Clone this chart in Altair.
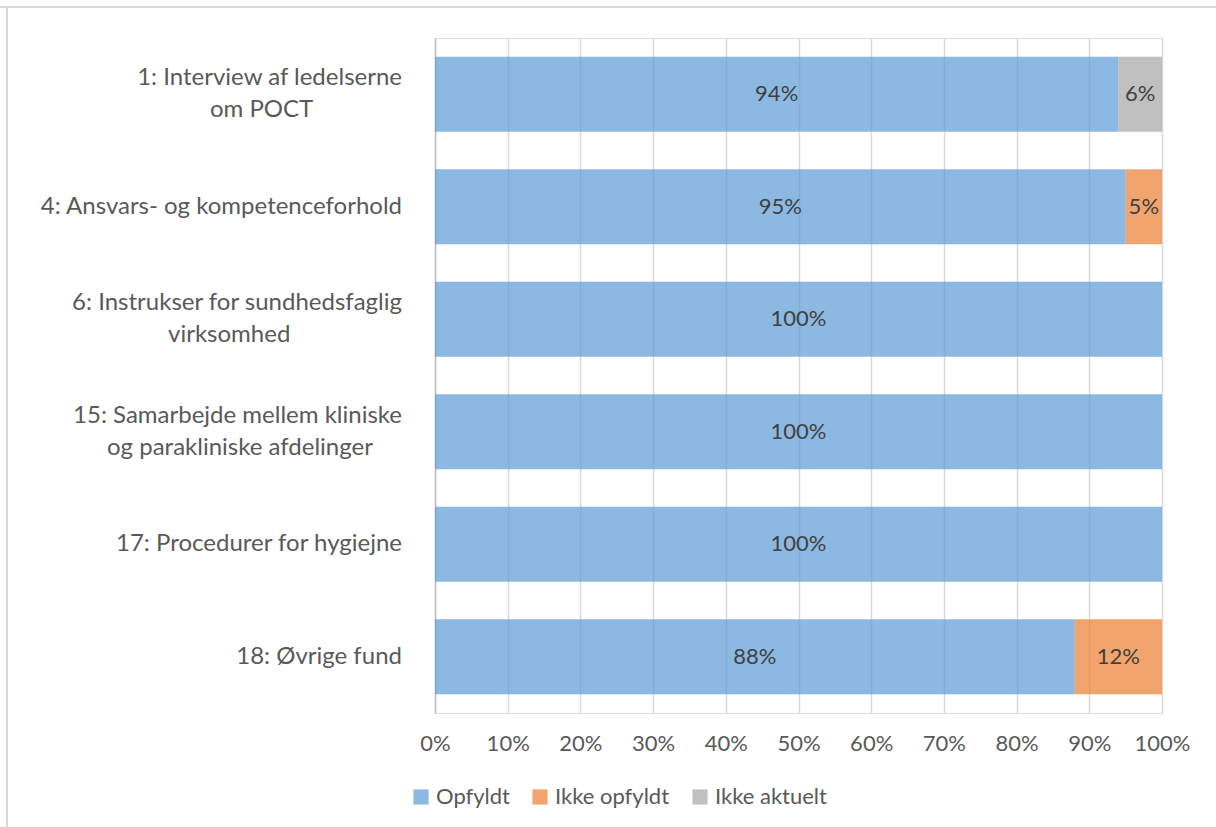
import altair as alt
import pandas as pd

categories = [
    "1: Interview af ledelserne\nom POCT",
    "4: Ansvars- og kompetenceforhold",
    "6: Instrukser for sundhedsfaglig\nvirksomhed",
    "15: Samarbejde mellem kliniske\nog parakliniske afdelinger",
    "17: Procedurer for hygiejne",
    "18: Øvrige fund",
]
series = ["Opfyldt", "Ikke opfyldt", "Ikke aktuelt"]
opfyldt = [94, 95, 100, 100, 100, 88]
ikke_opfyldt = [0, 5, 0, 0, 0, 12]
ikke_aktuelt = [6, 0, 0, 0, 0, 0]
colors = ["#5B9BD5", "#ED7D31", "#A5A5A5"]
x_ticks = [i / 10 for i in range(11)]

rows = []
for i, c in enumerate(categories):
    for s_i, (s, vals) in enumerate(zip(series, [opfyldt, ikke_opfyldt, ikke_aktuelt])):
        if vals[i] > 0:
            rows.append({"cat": c, "series": s, "order": s_i, "value": vals[i] / 100})
df = pd.DataFrame(rows)

lines = []
for c in categories:
    parts = c.split("\n")
    for li, p in enumerate(parts):
        lines.append({"cat": c, "line": p, "idx": li, "n": len(parts), "first": parts[0]})
ldf = pd.DataFrame(lines)

FONT = "Lato"
FS = 22
CFS = 24
yscale = alt.Scale(domain=categories, paddingInner=0.333, paddingOuter=0.1667)

base = alt.Chart(df).transform_stack(
    stack="value", groupby=["cat"], as_=["x0", "x1"], sort=[alt.SortField("order")]
).transform_calculate(mid="(datum.x0 + datum.x1) / 2", lab="round(datum.value*100) + '%'")

bars = base.mark_bar(opacity=0.7).encode(
    y=alt.Y("cat:N", scale=yscale, sort=categories,
            axis=alt.Axis(title=None, labels=False, ticks=False, domain=True,
                          domainColor="#bfbfbf", domainWidth=1.5, grid=False)),
    x=alt.X("x0:Q", scale=alt.Scale(domain=[0, 1], nice=False),
            axis=alt.Axis(title=None, values=x_ticks, format="%", grid=True,
                          gridColor="#d9d9d9", gridWidth=1.5, domain=False, ticks=False,
                          labelFontSize=FS, labelFont=FONT, labelColor="#595959",
                          labelPadding=20, labelOverlap=False, labelFlush=False,
                          labelBound=False)),
    x2="x1:Q",
    color=alt.Color("series:N", scale=alt.Scale(domain=series, range=colors),
                    legend=alt.Legend(title=None, orient="none", direction="horizontal",
                                      legendX=-25, legendY=748, symbolType="square",
                                      symbolSize=230, symbolOpacity=0.7, symbolStrokeWidth=0,
                                      labelFontSize=FS, labelFont=FONT, labelColor="#595959",
                                      labelOffset=4, columnPadding=19)),
)

bar_text = base.mark_text(font=FONT, fontSize=FS, color="#404040", baseline="middle").encode(
    y=alt.Y("cat:N", scale=yscale, sort=categories),
    x=alt.X("mid:Q"),
    text="lab:N",
)

R = -33
lab_base = alt.Chart(ldf)
single = lab_base.transform_filter("datum.n == 1").mark_text(
    font=FONT, fontSize=CFS, color="#595959", align="right", baseline="middle"
).encode(y=alt.Y("cat:N", scale=yscale, sort=categories), x=alt.value(R), text="line:N")
first = lab_base.transform_filter("datum.n == 2 && datum.idx == 0").mark_text(
    font=FONT, fontSize=CFS, color="#595959", align="right", baseline="middle", dy=-16
).encode(y=alt.Y("cat:N", scale=yscale, sort=categories), x=alt.value(R), text="line:N")
second = lab_base.transform_filter("datum.n == 2 && datum.idx == 1").transform_calculate(
    cx=f"{R} - length(datum.first) * 10.8 / 2"
).mark_text(
    font=FONT, fontSize=CFS, color="#595959", align="center", baseline="middle", dy=16
).encode(y=alt.Y("cat:N", scale=yscale, sort=categories),
         x=alt.X("cx:Q", scale=None), text="line:N")

border_top = alt.Chart(pd.DataFrame({"a": [0]})).mark_rule(color="#d9d9d9", strokeWidth=2).encode(
    x=alt.value(-435), x2=alt.value(781), y=alt.value(-31))
border_left = alt.Chart(pd.DataFrame({"a": [0]})).mark_rule(color="#d9d9d9", strokeWidth=2).encode(
    x=alt.value(-428), y=alt.value(-31), y2=alt.value(789))

chart = alt.layer(bars, bar_text, single, first, second, border_top, border_left).properties(
    width=727, height=675,
    autosize=alt.AutoSizeParams(type="none"),
    padding={"left": 435, "top": 38, "right": 54, "bottom": 114},
).configure_view(stroke=None).configure(background="white")

chart.save("out.html", embed_options={"renderer": "svg", "actions": False})
